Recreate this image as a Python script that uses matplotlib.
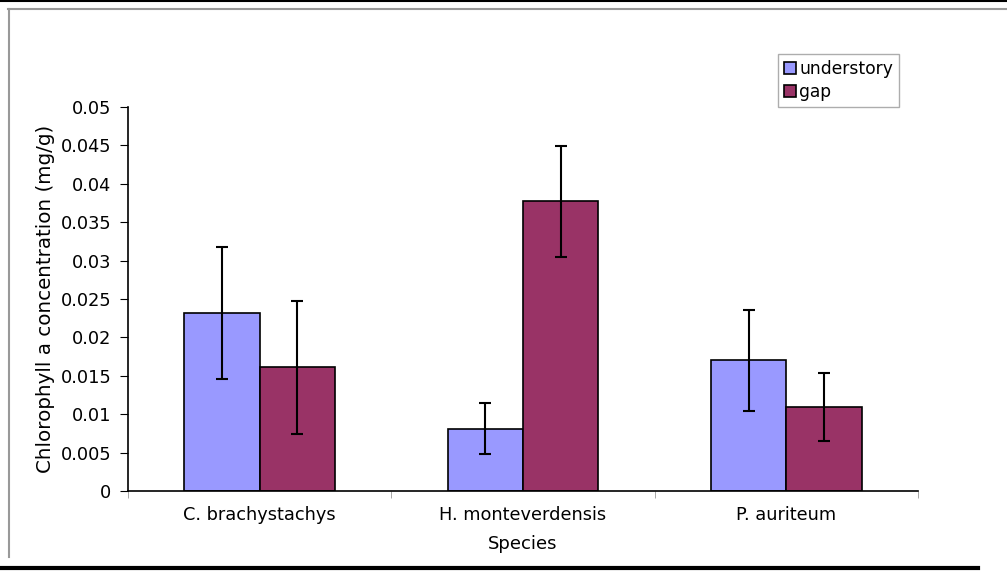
import numpy as np
import matplotlib.pyplot as plt
from matplotlib.lines import Line2D

species = ['C. brachystachys', 'H. monteverdensis', 'P. auriteum']
understory = [0.0232, 0.0081, 0.0170]
understory_err = [0.0086, 0.0033, 0.0066]
gap = [0.0161, 0.0377, 0.0109]
gap_err = [0.0087, 0.0072, 0.0044]

plt.rcParams['font.family'] = 'DejaVu Sans'

fig = plt.figure(figsize=(10.07, 5.73), dpi=100)
ax = fig.add_axes([0.1271, 0.1431, 0.7845, 0.6702])

x = np.arange(len(species))
w = 1 / 3.5
err_kw = dict(ecolor='black', elinewidth=1.5, capsize=4.3, capthick=1.5)
ax.bar(x - w / 2, understory, w, yerr=understory_err, color='#9999FF',
       edgecolor='black', linewidth=1.2, label='understory', error_kw=err_kw)
ax.bar(x + w / 2, gap, w, yerr=gap_err, color='#993366',
       edgecolor='black', linewidth=1.2, label='gap', error_kw=err_kw)

ax.set_xlim(-0.5, 2.5)
ax.set_ylim(0, 0.05)
ax.set_yticks(np.arange(0, 0.0501, 0.005))
ax.set_yticklabels(['0', '0.005', '0.01', '0.015', '0.02', '0.025', '0.03',
                    '0.035', '0.04', '0.045', '0.05'])
ax.set_xticks(x)
ax.set_xticklabels(species)
ax.set_xticks([-0.5, 0.5, 1.5, 2.5], minor=True)
ax.tick_params(axis='x', which='major', length=0, labelsize=12.8, pad=11)
ax.tick_params(axis='x', which='minor', length=5, color='#999999', direction='out')
ax.tick_params(axis='y', length=6, labelsize=12.8, direction='out', pad=6)
ax.spines['top'].set_visible(False)
ax.spines['right'].set_visible(False)
ax.spines['left'].set_linewidth(1.2)
ax.spines['bottom'].set_linewidth(1.2)

ax.set_xlabel('Species', fontsize=13, labelpad=8)
ax.set_ylabel('Chlorophyll a concentration (mg/g)', fontsize=14.3, labelpad=4)

fig.legend(loc='upper left', bbox_to_anchor=(778 / 1007, 1 - 54 / 573),
           fontsize=12.3, frameon=True, fancybox=False, edgecolor='#999999',
           handlelength=0.7, handleheight=0.7, handletextpad=0.2,
           borderpad=0.35, labelspacing=0.3, borderaxespad=0)

# outer frame lines
fig.add_artist(Line2D([0, 1], [0.998, 0.998], color='black', lw=1.5))
fig.add_artist(Line2D([8 / 1007, 1], [1 - 9 / 573, 1 - 9 / 573], color='#999999', lw=1.5))
fig.add_artist(Line2D([9 / 1007, 9 / 1007], [1 - 9 / 573, 1 - 557 / 573], color='#999999', lw=1.5))
fig.add_artist(Line2D([0, 978 / 1007], [1 - 568 / 573, 1 - 568 / 573], color='black', lw=3))

fig.savefig('out.png', dpi=100)
